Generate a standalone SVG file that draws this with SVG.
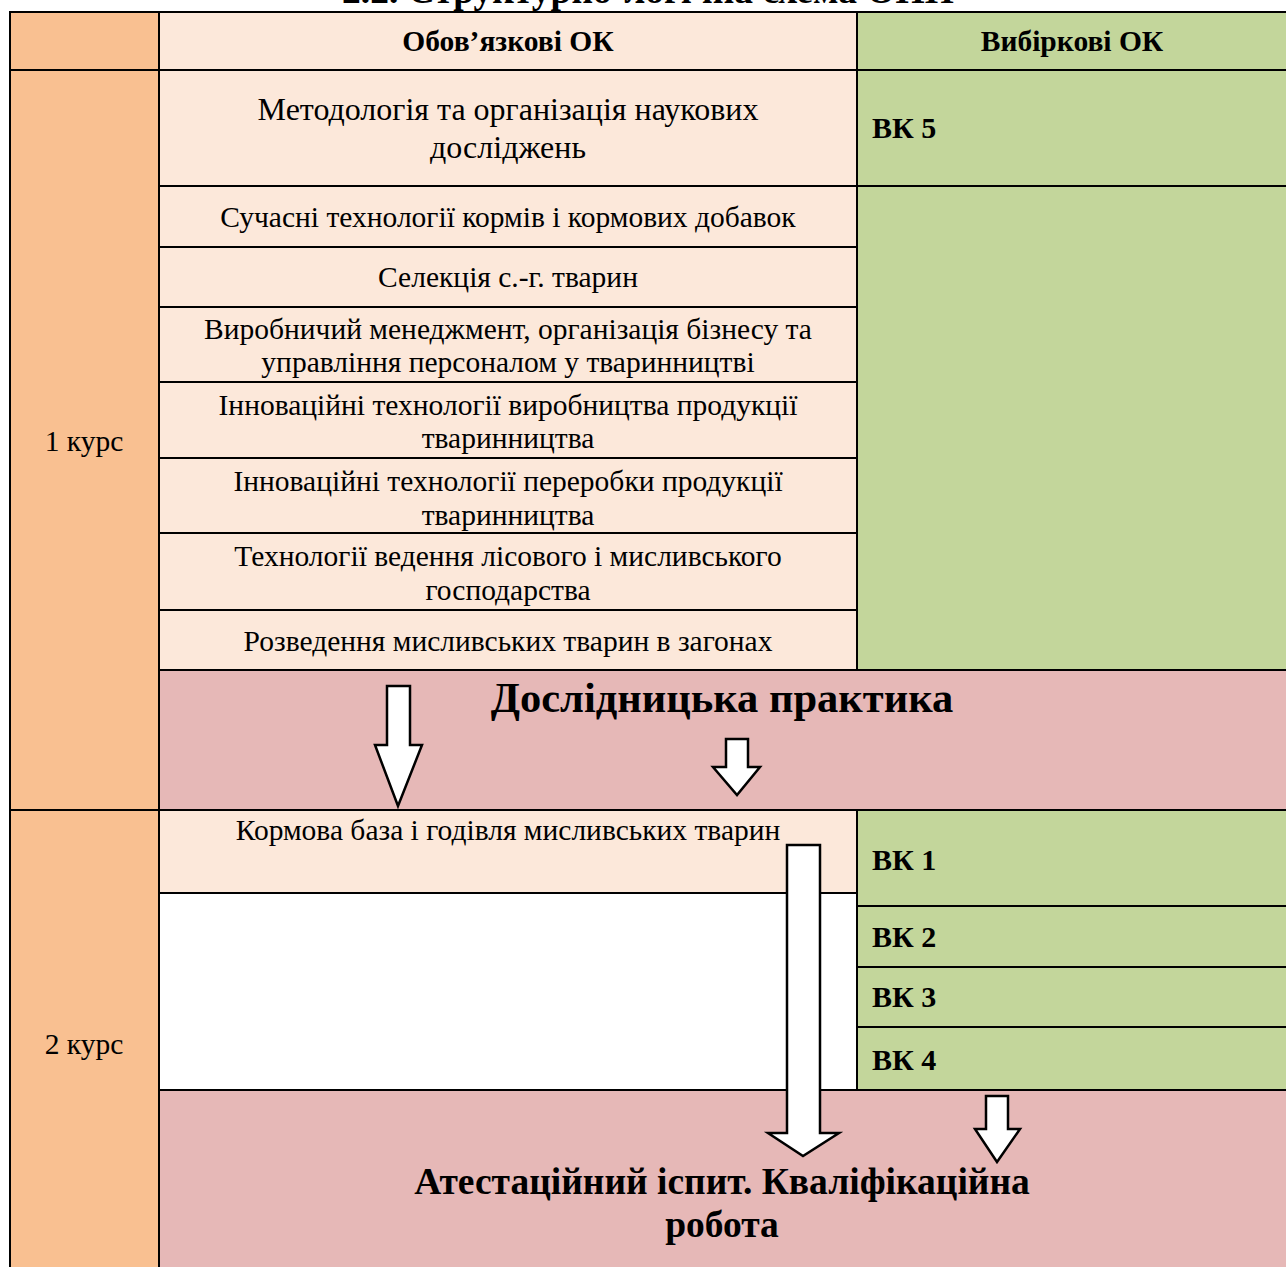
<svg xmlns="http://www.w3.org/2000/svg" width="1286" height="1267" viewBox="0 0 1286 1267">
<style>
text{font-family:"Liberation Serif","Times New Roman",serif;fill:#000}
.t{font-size:29.5px;text-anchor:middle}
.t1{font-size:32px;text-anchor:middle}
.h{font-size:29.5px;font-weight:bold;text-anchor:middle}
.vk{font-size:30px;font-weight:bold}
.big{font-size:42.5px;font-weight:bold;text-anchor:middle}
.big2{font-size:37.5px;font-weight:bold;text-anchor:middle}
.ln{stroke:#000;stroke-width:2;fill:none}
.arr{fill:#fff;stroke:#000;stroke-width:2.5;stroke-linejoin:miter}
</style>
<rect width="1286" height="1267" fill="#fff"/>
<text class="big2" x="648" y="3" font-size="35">2.2. Структурно-логічна схема ОНП</text>
<g id="fills">
<rect x="10" y="12" width="149" height="1255" fill="#F9C091"/>
<rect x="159" y="12" width="698" height="658" fill="#FCE8DA"/>
<rect x="857" y="12" width="429" height="658" fill="#C3D69B"/>
<rect x="159" y="670" width="1127" height="140" fill="#E6B8B7"/>
<rect x="159" y="810" width="698" height="83" fill="#FCE8DA"/>
<rect x="159" y="893" width="698" height="197" fill="#fff"/>
<rect x="857" y="810" width="429" height="280" fill="#C3D69B"/>
<rect x="159" y="1090" width="1127" height="177" fill="#E6B8B7"/>
</g>
<g id="grid" class="ln">
<line x1="9" y1="12" x2="1286" y2="12"/>
<line x1="10" y1="12" x2="10" y2="1267"/>
<line x1="159" y1="12" x2="159" y2="1267"/>
<line x1="857" y1="12" x2="857" y2="670"/>
<line x1="857" y1="810" x2="857" y2="1090"/>
<line x1="10" y1="70" x2="1286" y2="70"/>
<line x1="159" y1="186" x2="1286" y2="186"/>
<line x1="159" y1="247" x2="857" y2="247"/>
<line x1="159" y1="307" x2="857" y2="307"/>
<line x1="159" y1="382" x2="857" y2="382"/>
<line x1="159" y1="458" x2="857" y2="458"/>
<line x1="159" y1="533" x2="857" y2="533"/>
<line x1="159" y1="610" x2="857" y2="610"/>
<line x1="159" y1="670" x2="1286" y2="670"/>
<line x1="10" y1="810" x2="1286" y2="810"/>
<line x1="159" y1="893" x2="857" y2="893"/>
<line x1="857" y1="906" x2="1286" y2="906"/>
<line x1="857" y1="967" x2="1286" y2="967"/>
<line x1="857" y1="1027" x2="1286" y2="1027"/>
<line x1="159" y1="1090" x2="1286" y2="1090"/>
</g>
<g id="header">
<text class="h" x="508" y="51">Обов’язкові ОК</text>
<text class="h" x="1072" y="51">Вибіркові ОК</text>
</g>
<g id="course1"><text class="t" x="84" y="451">1 курс</text></g>
<g id="course2"><text class="t" x="84" y="1054">2 курс</text></g>
<g id="ok1"><text class="t1" x="508" y="120">Методологія та організація наукових</text><text class="t1" x="508" y="158">досліджень</text></g>
<g id="vk5"><text class="vk" x="872" y="138">ВК 5</text></g>
<g id="ok2"><text class="t" x="508" y="227">Сучасні технології кормів і кормових добавок</text></g>
<g id="ok3"><text class="t" x="508" y="287">Селекція с.-г. тварин</text></g>
<g id="ok4"><text class="t" x="508" y="339">Виробничий менеджмент, організація бізнесу та</text><text class="t" x="508" y="372">управління персоналом у тваринництві</text></g>
<g id="ok5"><text class="t" x="508" y="415">Інноваційні технології виробництва продукції</text><text class="t" x="508" y="448">тваринництва</text></g>
<g id="ok6"><text class="t" x="508" y="491">Інноваційні технології переробки продукції</text><text class="t" x="508" y="525">тваринництва</text></g>
<g id="ok7"><text class="t" x="508" y="566">Технології ведення лісового і мисливського</text><text class="t" x="508" y="600">господарства</text></g>
<g id="ok8"><text class="t" x="508" y="651">Розведення мисливських тварин в загонах</text></g>
<g id="practice"><text class="big" x="722" y="712">Дослідницька практика</text></g>
<g id="ok9"><text class="t" x="508" y="840">Кормова база і годівля мисливських тварин</text></g>
<g id="vk1"><text class="vk" x="872" y="870">ВК 1</text></g>
<g id="vk2"><text class="vk" x="872" y="947">ВК 2</text></g>
<g id="vk3"><text class="vk" x="872" y="1007">ВК 3</text></g>
<g id="vk4"><text class="vk" x="872" y="1070">ВК 4</text></g>
<g id="attest"><text class="big2" x="722" y="1194">Атестаційний іспит. Кваліфікаційна</text><text class="big2" x="722" y="1237">робота</text></g>
<g id="connectors">
<polygon class="arr" points="387,686 410,686 410,745 422,745 398,806 375,745 387,745"/>
<polygon class="arr" points="726,739 748,739 748,767 760,767 737,795 713,767 726,767"/>
<polygon class="arr" points="787,845 820,845 820,1133 839,1133 803,1156 768,1133 787,1133"/>
<polygon class="arr" points="986,1096 1008,1096 1008,1129 1020,1129 997,1162 975,1129 986,1129"/>
</g>
</svg>
